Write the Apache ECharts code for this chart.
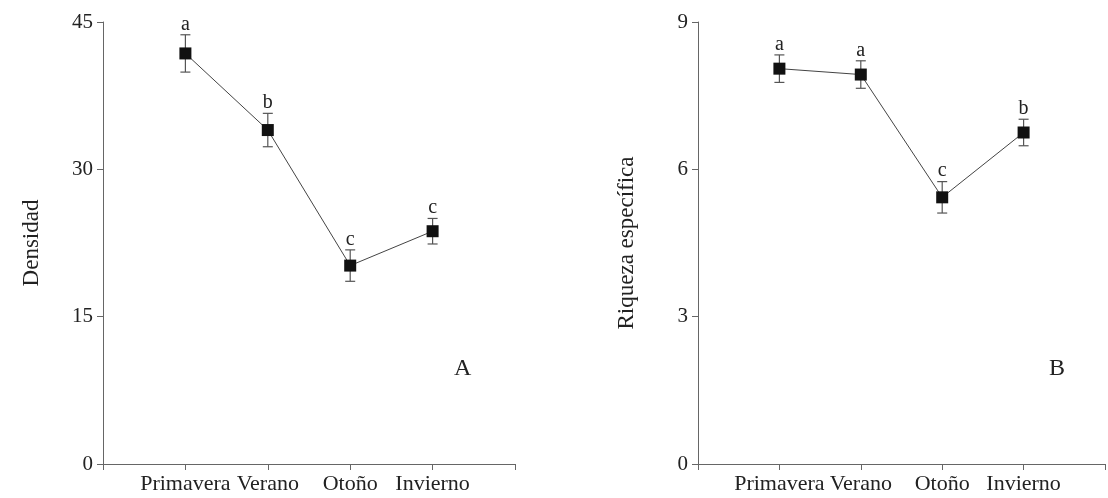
<!DOCTYPE html>
<html>
<head>
<meta charset="utf-8">
<script src="https://cdn.jsdelivr.net/npm/echarts@6/dist/echarts.min.js"></script>
<style>
html,body{margin:0;padding:0;background:#fff;}
#chart{width:1108px;height:498px;}
</style>
</head>
<body>
<div id="chart"></div>
<script>
const categories = ['Primavera', 'Verano', 'Otoño', 'Invierno'];
const densidadMean = [41.8, 34.0, 20.2, 23.7];
const densidadErr = [1.9, 1.7, 1.6, 1.3];
const densidadLetters = ['a', 'b', 'c', 'c'];
const riquezaMean = [8.05, 7.93, 5.43, 6.75];
const riquezaErr = [0.28, 0.28, 0.32, 0.27];
const riquezaLetters = ['a', 'a', 'c', 'b'];
const densidadTicks = [0, 15, 30, 45];
const riquezaTicks = [0, 3, 6, 9];
const panelLetters = ['A', 'B'];

const FONT = '"Liberation Serif", "DejaVu Serif", serif';
const AXIS_COLOR = '#666';
const TEXT_COLOR = '#222';

function xAxisDef(gridIndex) {
  return {
    type: 'value', gridIndex: gridIndex, min: 0, max: categories.length + 1, interval: 1,
    splitLine: { show: false },
    axisLine: { lineStyle: { color: AXIS_COLOR, width: 1 } },
    axisTick: { length: 6, lineStyle: { color: AXIS_COLOR } },
    axisLabel: {
      margin: 9, color: TEXT_COLOR, fontFamily: FONT, fontSize: 22,
      formatter: v => categories[v - 1] || ''
    }
  };
}
function yAxisDef(gridIndex, ticks, name) {
  return {
    type: 'value', gridIndex: gridIndex, min: ticks[0], max: ticks[ticks.length - 1],
    interval: ticks[1] - ticks[0],
    name: name, nameLocation: 'middle', nameGap: 60,
    nameTextStyle: { fontFamily: FONT, fontSize: 23, color: TEXT_COLOR },
    splitLine: { show: false },
    axisLine: { lineStyle: { color: AXIS_COLOR, width: 1 } },
    axisTick: { length: 6, lineStyle: { color: AXIS_COLOR } },
    axisLabel: { margin: 10, color: TEXT_COLOR, fontFamily: FONT, fontSize: 21 }
  };
}
function pts(means) { return means.map((m, i) => [i + 1, m]); }
function errData(means, errs) { return means.map((m, i) => [i + 1, m, errs[i]]); }
function errSeries(idx, means, errs, letters) {
  return {
    type: 'custom', xAxisIndex: idx, yAxisIndex: idx, z: 2,
    data: errData(means, errs),
    renderItem: function (params, api) {
      const x = api.value(0), m = api.value(1), e = api.value(2);
      const top = api.coord([x, m + e]);
      const bot = api.coord([x, m - e]);
      const hw = 5;
      const ls = { stroke: '#555', lineWidth: 1.2 };
      return {
        type: 'group',
        children: [
          { type: 'line', shape: { x1: top[0], y1: top[1], x2: bot[0], y2: bot[1] }, style: ls },
          { type: 'line', shape: { x1: top[0] - hw, y1: top[1], x2: top[0] + hw, y2: top[1] }, style: ls },
          { type: 'line', shape: { x1: bot[0] - hw, y1: bot[1], x2: bot[0] + hw, y2: bot[1] }, style: ls },
          { type: 'text', x: top[0], y: top[1] - 0.5,
            style: { text: letters[params.dataIndex], textAlign: 'center', textVerticalAlign: 'bottom',
                     font: '20px ' + FONT, fill: TEXT_COLOR } }
        ]
      };
    }
  };
}
function lineSeries(idx, means) {
  return {
    type: 'line', xAxisIndex: idx, yAxisIndex: idx, z: 3,
    data: pts(means), symbol: 'rect', symbolSize: 12, showSymbol: true,
    itemStyle: { color: '#111' },
    lineStyle: { color: '#444', width: 1 }
  };
}

const chart = echarts.init(document.getElementById('chart'), null, { renderer: 'canvas' });
chart.setOption({
  animation: false,
  backgroundColor: '#fff',
  grid: [
    { left: 103, top: 22, width: 412, height: 442 },
    { left: 698, top: 22, width: 422, height: 442 }
  ],
  xAxis: [xAxisDef(0), xAxisDef(1)],
  yAxis: [yAxisDef(0, densidadTicks, 'Densidad'), yAxisDef(1, riquezaTicks, 'Riqueza específica')],
  graphic: [
    { type: 'text', left: 454, top: 357, style: { text: panelLetters[0], font: '24px ' + FONT, fill: TEXT_COLOR } },
    { type: 'text', left: 1049, top: 357, style: { text: panelLetters[1], font: '24px ' + FONT, fill: TEXT_COLOR } }
  ],
  series: [
    errSeries(0, densidadMean, densidadErr, densidadLetters),
    lineSeries(0, densidadMean),
    errSeries(1, riquezaMean, riquezaErr, riquezaLetters),
    lineSeries(1, riquezaMean)
  ]
});
</script>
</body>
</html>
